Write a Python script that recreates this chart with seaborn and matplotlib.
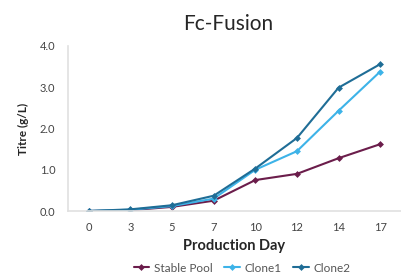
import numpy as np
import pandas as pd
import matplotlib
matplotlib.use("Agg")
import matplotlib.pyplot as plt
import seaborn as sns

days = ["0", "3", "5", "7", "10", "12", "14", "17"]
stable_pool = [0.0, 0.02, 0.10, 0.25, 0.75, 0.90, 1.28, 1.62]
clone1 = [0.0, 0.03, 0.12, 0.30, 1.00, 1.45, 2.43, 3.38]
clone2 = [0.0, 0.04, 0.14, 0.37, 1.03, 1.77, 2.99, 3.56]
series_names = ["Stable Pool", "Clone1", "Clone2"]
colors = ["#6b1d4b", "#3db3e8", "#1f6d96"]

df = pd.DataFrame({"Day": days * 3,
                   "Titre": stable_pool + clone1 + clone2,
                   "Series": sum([[n] * len(days) for n in series_names], [])})
df["x"] = df["Day"].map({d: i for i, d in enumerate(days)})

sns.set_style("white")
plt.rcParams["font.family"] = ["Lato", "DejaVu Sans"]
fig = plt.figure(figsize=(4.01, 2.79), dpi=100)
ax = fig.add_axes([68/401, (279-211)/279, 1 - 68/401, 165/279])

sns.lineplot(data=df, x="x", y="Titre", hue="Series", palette=colors,
             marker="D", markersize=3.5, markeredgewidth=0, linewidth=1.5, ax=ax)

ax.set_xlim(-0.5, 7.35)
ax.set_ylim(0, 4.0)
ax.set_xticks(range(len(days)))
ax.set_xticklabels(days)
ax.set_xticks(np.arange(-0.5, 7.6, 1), minor=True)
ax.set_yticks([0, 1, 2, 3, 4])
ax.set_yticklabels(["0.0", "1.0", "2.0", "3.0", "4.0"])
ax.tick_params(axis="x", which="major", length=0, labelsize=8, colors="#444444", pad=8)
ax.tick_params(axis="x", which="minor", length=3, color="#dddddd", direction="out")
ax.tick_params(axis="y", length=3, color="#dddddd", labelsize=8, labelcolor="#444444", pad=6)
for s in ["top", "right"]:
    ax.spines[s].set_visible(False)
for s in ["left", "bottom"]:
    ax.spines[s].set_color("#e0e0e0")
    ax.spines[s].set_linewidth(1.2)

ax.set_xlabel("Production Day", fontsize=10.5, fontweight="bold", labelpad=4)
ax.set_ylabel("Titre (g/L)", fontsize=8.5, fontweight="bold", labelpad=8)
fig.text(228/401, 1 - 24/279, "Fc-Fusion", ha="center", va="center", fontsize=15)

handles, labels = ax.get_legend_handles_labels()
ax.legend(handles, labels, loc="center", bbox_to_anchor=(242/401, 1 - 268/279),
          bbox_transform=fig.transFigure, ncol=3, frameon=False, fontsize=8.5,
          handlelength=1.3, columnspacing=1.0, handletextpad=0.4, labelcolor="#555555")

fig.savefig("out.png", dpi=100)
